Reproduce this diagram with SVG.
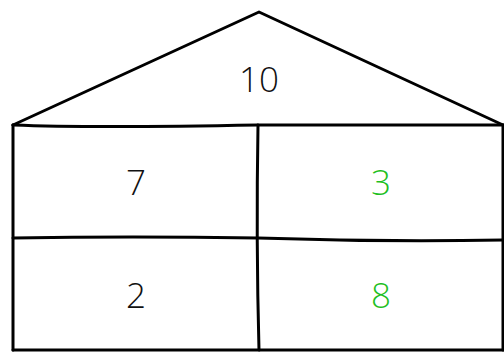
<svg xmlns="http://www.w3.org/2000/svg" width="504" height="352" viewBox="0 0 504 352">
<style>
.ln{fill:none;stroke:#000;stroke-width:3;stroke-linejoin:round;stroke-linecap:round}
.t{font-family:"Open Sans","Liberation Sans",Arial,sans-serif;font-size:35px;text-anchor:middle;font-weight:300}
.k{fill:#111}
.g{fill:#1fbf1f}
</style>
<rect width="504" height="352" fill="#fff"/>
<g id="connectors">
<path class="ln" d="M13,125 L259,12 L503,125"/>
<path class="ln" d="M13,125 Q90,128 258,125 Q380,125 503,125"/>
<path class="ln" d="M13,125 L13,350"/>
<path class="ln" d="M258,125 Q256,240 259,350"/>
<path class="ln" d="M13,238 Q130,236 258,238 Q380,242 503,240"/>
<path class="ln" d="M13,350 L503,350"/>
<path class="ln" d="M503,125 L503,350"/>
</g>
<g id="roof"><text class="t k" x="259" y="92">10</text></g>
<g id="cell-7"><text class="t k" x="136" y="195">7</text></g>
<g id="cell-3"><text class="t g" x="381" y="195">3</text></g>
<g id="cell-2"><text class="t k" x="136" y="308">2</text></g>
<g id="cell-8"><text class="t g" x="381" y="308">8</text></g>
</svg>
